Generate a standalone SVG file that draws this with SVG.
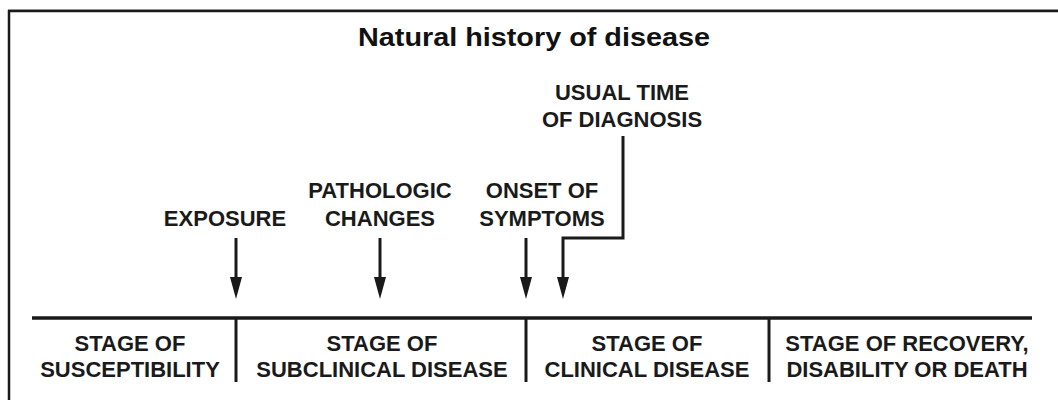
<svg xmlns="http://www.w3.org/2000/svg" width="1058" height="400" viewBox="0 0 1058 400">
<style>
.t{font-family:"Liberation Sans",Arial,sans-serif;font-weight:bold;font-size:22px;fill:#1a1a1a;text-anchor:middle}
.ttl{font-family:"Liberation Sans",Arial,sans-serif;font-weight:bold;font-size:26px;fill:#111;text-anchor:middle}
.ln{stroke:#1a1a1a;fill:none}
</style>
<rect width="1058" height="400" fill="#fff"/>
<g id="frame">
<line x1="8" y1="9.5" x2="1058" y2="9.5" stroke="#bbb" stroke-width="1"/>
<line x1="8" y1="11" x2="1058" y2="11" class="ln" stroke-width="2.5"/>
<line x1="9" y1="10" x2="9" y2="400" class="ln" stroke-width="2.5"/>
</g>
<text id="title" class="ttl" x="534" y="46" textLength="352" lengthAdjust="spacingAndGlyphs">Natural history of disease</text>
<g id="timeline">
<line x1="32" y1="318" x2="1032" y2="318" class="ln" stroke-width="3.5"/>
<line x1="236" y1="318" x2="236" y2="382" class="ln" stroke-width="3"/>
<line x1="526" y1="318" x2="526" y2="382" class="ln" stroke-width="3"/>
<line x1="769" y1="318" x2="769" y2="382" class="ln" stroke-width="3"/>
</g>
<g id="stage-susceptibility">
<text class="t" x="130" y="351">STAGE OF</text>
<text class="t" x="130" y="377">SUSCEPTIBILITY</text>
</g>
<g id="stage-subclinical">
<text class="t" x="382" y="351">STAGE OF</text>
<text class="t" x="382" y="377">SUBCLINICAL DISEASE</text>
</g>
<g id="stage-clinical">
<text class="t" x="647" y="351">STAGE OF</text>
<text class="t" x="647" y="377">CLINICAL DISEASE</text>
</g>
<g id="stage-recovery">
<text class="t" x="907" y="351">STAGE OF RECOVERY,</text>
<text class="t" x="907" y="377">DISABILITY OR DEATH</text>
</g>
<g id="exposure">
<text class="t" x="225" y="226">EXPOSURE</text>
</g>
<g id="pathologic">
<text class="t" x="380" y="198">PATHOLOGIC</text>
<text class="t" x="380" y="226">CHANGES</text>
</g>
<g id="onset">
<text class="t" x="542" y="198">ONSET OF</text>
<text class="t" x="542" y="226">SYMPTOMS</text>
</g>
<g id="diagnosis">
<text class="t" x="622" y="100">USUAL TIME</text>
<text class="t" x="622" y="127">OF DIAGNOSIS</text>
</g>
<g id="connectors" fill="#1a1a1a">
<line x1="236" y1="238" x2="236" y2="282" class="ln" stroke-width="3"/>
<polygon points="230,277 242,277 236,299"/>
<line x1="380" y1="238" x2="380" y2="282" class="ln" stroke-width="3"/>
<polygon points="374,277 386,277 380,299"/>
<line x1="526" y1="238" x2="526" y2="282" class="ln" stroke-width="3"/>
<polygon points="520,277 532,277 526,299"/>
<polyline points="623,136 623,238 563,238 563,282" class="ln" stroke-width="3"/>
<polygon points="557,277 569,277 563,299"/>
</g>
</svg>
